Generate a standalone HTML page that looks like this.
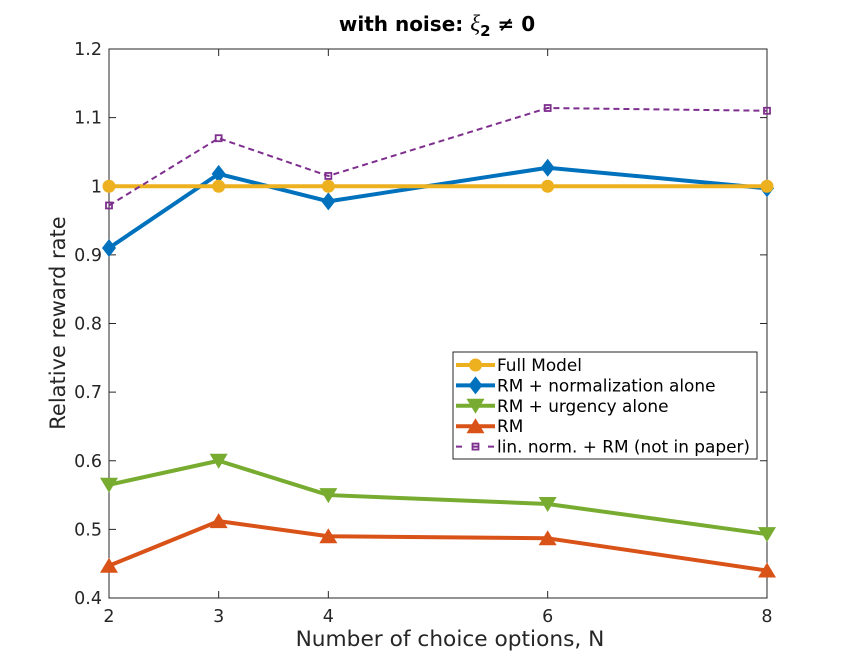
<!DOCTYPE html>
<html><head><meta charset="utf-8"><style>
body{margin:0;background:#fff}
svg{display:block;font-family:"DejaVu Sans","Liberation Sans",sans-serif}
</style></head><body>
<svg id="chart" width="842" height="671" viewBox="0 0 842 671" xmlns="http://www.w3.org/2000/svg">
<rect width="842" height="671" fill="#fff"/>
<text x="437" y="31" text-anchor="middle" font-size="20" font-weight="bold" fill="#000">with noise: <tspan font-style="italic" font-weight="normal" font-family="Liberation Serif,serif" font-size="23">ξ</tspan><tspan font-size="15" dy="5">2</tspan><tspan dy="-5"> ≠ 0</tspan></text>
<g id="axes"></g>
<g id="series"></g>
<text x="450" y="646" text-anchor="middle" font-size="21.7" fill="#262626">Number of choice options, N</text>
<text transform="translate(65,323) rotate(-90)" text-anchor="middle" font-size="21" fill="#262626">Relative reward rate</text>
<g id="legend"></g>
</svg>
<script>
const categories=[2,3,4,6,8];
const fullModel=[1,1,1,1,1];
const rmNorm=[0.91,1.018,0.978,1.027,0.997];
const rmUrgency=[0.565,0.600,0.550,0.537,0.493];
const rm=[0.447,0.512,0.490,0.487,0.440];
const linNorm=[0.972,1.070,1.015,1.114,1.110];
const yTicks=[0.4,0.5,0.6,0.7,0.8,0.9,1,1.1,1.2];
const xTicks=[2,3,4,6,8];
const L=109,R=767,T=49,B=598;
const xs=v=>L+(v-2)/6*(R-L);
const ys=v=>B-(v-0.4)/0.8*(B-T);
const NS="http://www.w3.org/2000/svg";
function mk(tag,attrs,parent){const e=document.createElementNS(NS,tag);for(const k in attrs)e.setAttribute(k,attrs[k]);parent.appendChild(e);return e;}
const ax=document.getElementById('axes');
const box=mk('rect',{x:L,y:T,width:R-L,height:B-T,fill:'none',stroke:'#262626','stroke-width':1},ax);


yTicks.forEach(v=>{const y=ys(v);
mk('line',{x1:L,x2:L+7,y1:y,y2:y,stroke:'#262626'},ax);
mk('line',{x1:R,x2:R-7,y1:y,y2:y,stroke:'#262626'},ax);
const t=mk('text',{x:L-7,y:y+6,'text-anchor':'end','font-size':17.5,fill:'#262626'},ax);t.textContent=String(v);

});
xTicks.forEach(v=>{const x=xs(v);
mk('line',{x1:x,x2:x,y1:B,y2:B-7,stroke:'#262626'},ax);
mk('line',{x1:x,x2:x,y1:T,y2:T+7,stroke:'#262626'},ax);
const t=mk('text',{x:x,y:B+24,'text-anchor':'middle','font-size':17.5,fill:'#262626'},ax);t.textContent=String(v);

});
function marker(g,type,x,y,c){
 if(type==='circle')mk('circle',{cx:x,cy:y,r:6.5,fill:c},g);
 else if(type==='diamond')mk('polygon',{points:`${x},${y-9} ${x+7},${y} ${x},${y+9} ${x-7},${y}`,fill:c},g);
 else if(type==='down')mk('polygon',{points:`${x-9},${y-7} ${x+9},${y-7} ${x},${y+8}`,fill:c},g);
 else if(type==='up')mk('polygon',{points:`${x-9},${y+7} ${x+9},${y+7} ${x},${y-8}`,fill:c},g);
 else if(type==='square')mk('rect',{x:x-3,y:y-3,width:6,height:6,fill:'none',stroke:c,'stroke-width':1.8},g);
}
const series=[
 {name:'series-rm',vals:rm,c:'#D95319',m:'up',w:4,dash:null,label:'RM'},
 {name:'series-rm-urgency',vals:rmUrgency,c:'#77AC30',m:'down',w:4,dash:null,label:'RM + urgency alone'},
 {name:'series-rm-normalization',vals:rmNorm,c:'#0072BD',m:'diamond',w:4,dash:null,label:'RM + normalization alone'},
 {name:'series-full-model',vals:fullModel,c:'#EDB120',m:'circle',w:4,dash:null,label:'Full Model'},
 {name:'series-lin-norm',vals:linNorm,c:'#7E2F8E',m:'square',w:2,dash:'6,4',label:'lin. norm. + RM (not in paper)'}
];
const sg=document.getElementById('series');
series.forEach(s=>{const g=mk('g',{},sg);


const pts=categories.map((c,i)=>xs(c)+','+ys(s.vals[i])).join(' ');
const a={points:pts,fill:'none',stroke:s.c,'stroke-width':s.w,'stroke-linejoin':'round'};if(s.dash)a['stroke-dasharray']=s.dash;
mk('polyline',a,g);
categories.forEach((c,i)=>marker(g,s.m,xs(c),ys(s.vals[i]),s.c));});
const lg=document.getElementById('legend');


mk('rect',{x:453,y:352,width:304,height:107,fill:'#fff',stroke:'#262626'},lg);
const order=[3,2,1,0,4];
order.forEach((si,k)=>{const s=series[si];const y=365+k*20.4;
const g=mk('g',{},lg);


const a={x1:456,x2:495,y1:y,y2:y,stroke:s.c,'stroke-width':s.w};if(s.dash)a['stroke-dasharray']='6,10';
mk('line',a,g);marker(g,s.m,475.5,y,s.c);
const t=mk('text',{x:497,y:y+6,'font-size':16.9,fill:'#000'},g);t.textContent=s.label;});
</script>
</body></html>
